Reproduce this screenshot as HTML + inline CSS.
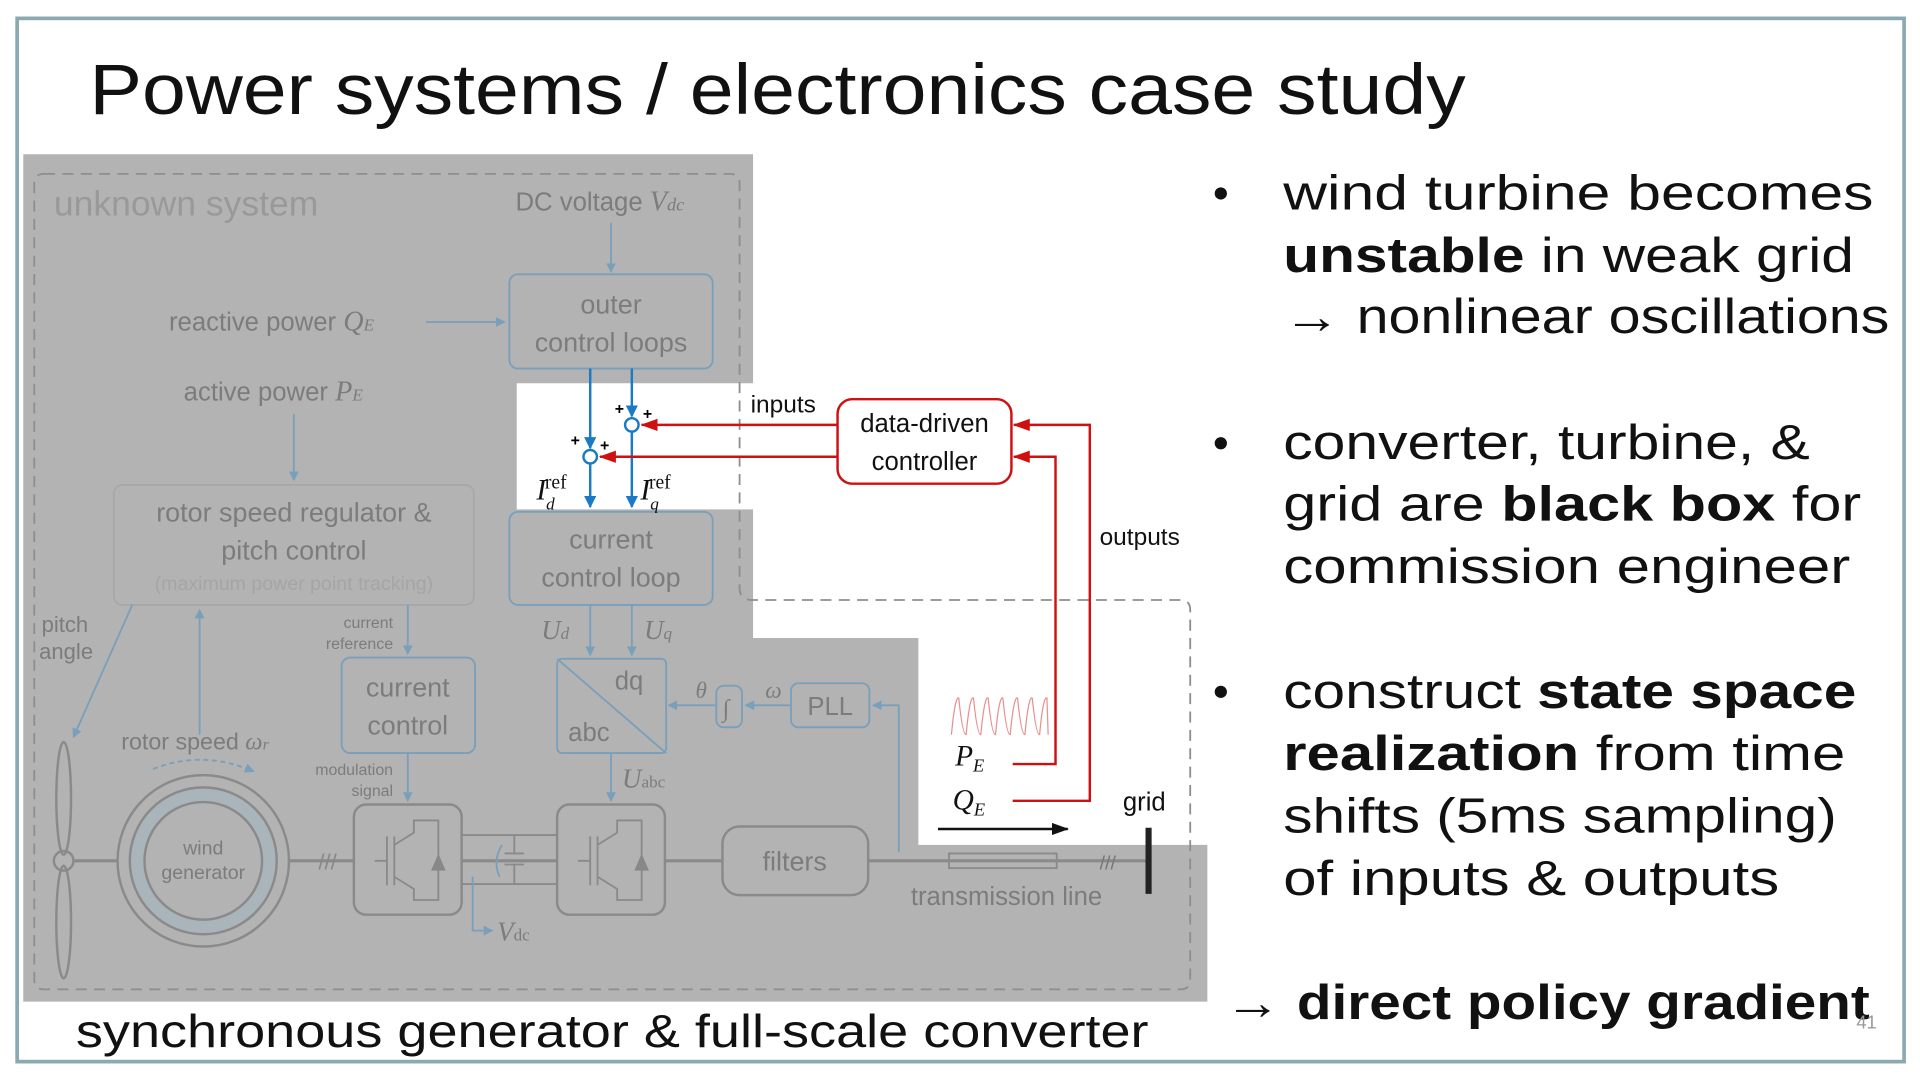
<!DOCTYPE html>
<html><head><meta charset="utf-8"><style>
html,body{margin:0;padding:0;background:#fff;width:1920px;height:1080px;overflow:hidden}
svg{display:block}
.t{font-family:"Liberation Sans",sans-serif}
.g{fill:#7c7c7c;font-family:"Liberation Sans",sans-serif}
.m{fill:#7c7c7c;font-family:"Liberation Serif",serif;font-style:italic}
.r{font-family:"Liberation Sans",sans-serif;font-size:40px;fill:#111}
</style></head><body>
<svg width="1920" height="1080" viewBox="0 0 1568 882" xmlns="http://www.w3.org/2000/svg">
<defs>
<marker id="ab" markerWidth="8" markerHeight="8" refX="7" refY="4" orient="auto" markerUnits="userSpaceOnUse"><path d="M0,0 L8,4 L0,8z" fill="#7a9fbb"/></marker>
<marker id="abb" markerWidth="10" markerHeight="10" refX="9" refY="5" orient="auto" markerUnits="userSpaceOnUse"><path d="M0,0 L10,5 L0,10z" fill="#1a7ac4"/></marker>
<marker id="ar" markerWidth="14" markerHeight="10" refX="13" refY="5" orient="auto" markerUnits="userSpaceOnUse"><path d="M0,0 L14,5 L0,10z" fill="#d01010"/></marker>
<marker id="ak" markerWidth="14" markerHeight="10" refX="13" refY="5" orient="auto" markerUnits="userSpaceOnUse"><path d="M0,0 L14,5 L0,10z" fill="#111"/></marker>
</defs>
<rect x="0" y="0" width="1568" height="882" fill="#fff"/>
<rect x="14" y="15" width="1541" height="852" fill="none" stroke="#8aa9b0" stroke-width="3"/>
<text class="t" x="73" y="93" font-size="58" fill="#111" textLength="1124" lengthAdjust="spacingAndGlyphs" font-weight="300">Power systems / electronics case study</text>

<!-- gray region -->
<path d="M19,126 H615 V313 H422 V416 H615 V521 H750 V690 H986 V818 H19 Z" fill="#b3b3b3"/>

<!-- dashed box -->
<path d="M36,142 H596 Q604,142 604,150 V480 Q604,490 614,490 H964 Q972,490 972,498 V800 Q972,808 964,808 H36 Q28,808 28,800 V150 Q28,142 36,142 Z" fill="none" stroke="#8e8e8e" stroke-width="1.5" stroke-dasharray="9,6"/>

<!-- faded diagram -->
<text class="g" x="44" y="176" font-size="29" fill="#999" style="fill:#999">unknown system</text>
<text class="g" x="421" y="172" font-size="21">DC voltage <tspan class="m" font-size="23">V</tspan><tspan class="m" font-style="normal" font-size="15">dc</tspan></text>
<line x1="499" y1="182" x2="499" y2="222" stroke="#7a9fbb" stroke-width="1.5" marker-end="url(#ab)"/>
<rect x="416" y="224" width="166" height="77" rx="7" fill="none" stroke="#7a9fbb" stroke-width="1.5"/>
<text class="g" x="499" y="256" font-size="22" text-anchor="middle">outer</text>
<text class="g" x="499" y="287" font-size="22" text-anchor="middle">control loops</text>
<text class="g" x="138" y="270" font-size="21">reactive power <tspan class="m" font-size="23">Q</tspan><tspan class="m" font-size="14">E</tspan></text>
<line x1="348" y1="263" x2="412" y2="263" stroke="#7a9fbb" stroke-width="1.5" marker-end="url(#ab)"/>
<text class="g" x="150" y="327" font-size="21">active power <tspan class="m" font-size="23">P</tspan><tspan class="m" font-size="14">E</tspan></text>
<line x1="240" y1="338" x2="240" y2="392" stroke="#7a9fbb" stroke-width="1.5" marker-end="url(#ab)"/>
<rect x="93" y="396" width="294" height="98" rx="7" fill="none" stroke="#a8a8a8" stroke-width="1.5"/>
<text class="g" x="240" y="426" font-size="22" text-anchor="middle">rotor speed regulator &amp;</text>
<text class="g" x="240" y="457" font-size="22" text-anchor="middle">pitch control</text>
<text class="g" x="240" y="482" font-size="16" text-anchor="middle" style="fill:#a5a5a5">(maximum power point tracking)</text>
<rect x="416" y="418" width="166" height="76" rx="7" fill="none" stroke="#7a9fbb" stroke-width="1.5"/>
<text class="g" x="499" y="448" font-size="22" text-anchor="middle">current</text>
<text class="g" x="499" y="479" font-size="22" text-anchor="middle">control loop</text>
<text class="g" x="34" y="516" font-size="18">pitch</text>
<text class="g" x="32" y="538" font-size="18">angle</text>
<line x1="108" y1="494" x2="60" y2="602" stroke="#7a9fbb" stroke-width="1.5" marker-end="url(#ab)"/>
<line x1="163" y1="600" x2="163" y2="498" stroke="#7a9fbb" stroke-width="1.5" marker-end="url(#ab)"/>
<text class="g" x="99" y="612" font-size="19">rotor speed <tspan class="m" font-size="20">ω</tspan><tspan class="m" font-size="13">r</tspan></text>
<text class="g" x="321" y="513" font-size="13" text-anchor="end">current</text>
<text class="g" x="321" y="530" font-size="13" text-anchor="end">reference</text>
<line x1="333" y1="494" x2="333" y2="534" stroke="#7a9fbb" stroke-width="1.5" marker-end="url(#ab)"/>
<rect x="279" y="537" width="109" height="78" rx="7" fill="none" stroke="#7a9fbb" stroke-width="1.5"/>
<text class="g" x="333" y="569" font-size="22" text-anchor="middle">current</text>
<text class="g" x="333" y="600" font-size="22" text-anchor="middle">control</text>
<text class="g" x="321" y="633" font-size="13" text-anchor="end">modulation</text>
<text class="g" x="321" y="650" font-size="13" text-anchor="end">signal</text>
<line x1="333" y1="615" x2="333" y2="654" stroke="#7a9fbb" stroke-width="1.5" marker-end="url(#ab)"/>
<text class="m" x="442" y="522" font-size="22">U<tspan font-size="14">d</tspan></text>
<text class="m" x="526" y="522" font-size="22">U<tspan font-size="14">q</tspan></text>
<line x1="482" y1="494" x2="482" y2="535" stroke="#7a9fbb" stroke-width="1.5" marker-end="url(#ab)"/>
<line x1="516" y1="494" x2="516" y2="535" stroke="#7a9fbb" stroke-width="1.5" marker-end="url(#ab)"/>
<rect x="455" y="538" width="89" height="77" rx="4" fill="none" stroke="#7a9fbb" stroke-width="1.5"/>
<line x1="455" y1="538" x2="544" y2="615" stroke="#7a9fbb" stroke-width="1.5"/>
<text class="g" x="502" y="563" font-size="21">dq</text>
<text class="g" x="464" y="605" font-size="21">abc</text>
<line x1="584" y1="576" x2="546" y2="576" stroke="#7a9fbb" stroke-width="1.5" marker-end="url(#ab)"/>
<text class="m" x="568" y="570" font-size="19">θ</text>
<rect x="585" y="560" width="21" height="34" rx="6" fill="none" stroke="#7a9fbb" stroke-width="1.5"/>
<text class="m" x="590" y="585" font-size="20">∫</text>
<line x1="645" y1="576" x2="609" y2="576" stroke="#7a9fbb" stroke-width="1.5" marker-end="url(#ab)"/>
<text class="m" x="625" y="570" font-size="19">ω</text>
<rect x="646" y="558" width="64" height="36" rx="6" fill="none" stroke="#7a9fbb" stroke-width="1.5"/>
<text class="g" x="678" y="584" font-size="21" text-anchor="middle">PLL</text>
<path d="M734,696 V576 H713" fill="none" stroke="#7a9fbb" stroke-width="1.5" marker-end="url(#ab)"/>
<line x1="499" y1="615" x2="499" y2="654" stroke="#7a9fbb" stroke-width="1.5" marker-end="url(#ab)"/>
<text class="m" x="508" y="643" font-size="22">U<tspan font-size="14" font-style="normal">abc</tspan></text>
<!-- power line -->
<line x1="52" y1="703" x2="938" y2="703" stroke="#8a8a8a" stroke-width="2.5"/>
<ellipse cx="52" cy="703" rx="8" ry="8" fill="#b3b3b3" stroke="#8a8a8a" stroke-width="2"/>
<ellipse cx="52" cy="652" rx="6" ry="46" fill="none" stroke="#8a8a8a" stroke-width="2"/>
<ellipse cx="52" cy="753" rx="6" ry="46" fill="none" stroke="#8a8a8a" stroke-width="2"/>
<circle cx="166" cy="703" r="70" fill="#b3b3b3" stroke="#8a8a8a" stroke-width="2"/>
<circle cx="166" cy="703" r="60" fill="#a9b4bb" stroke="#8a8a8a" stroke-width="2"/>
<circle cx="166" cy="703" r="48" fill="#b3b3b3" stroke="#8a8a8a" stroke-width="2"/>
<text class="g" x="166" y="698" font-size="16" text-anchor="middle">wind</text>
<text class="g" x="166" y="718" font-size="16" text-anchor="middle">generator</text>
<path d="M125,628 Q166,612 207,630" fill="none" stroke="#7a9fbb" stroke-width="1.5" stroke-dasharray="4,3" marker-end="url(#ab)"/>
<text class="g" x="260" y="710" font-size="18" style="fill:#888">///</text>
<rect x="289" y="657" width="88" height="90" rx="10" fill="#b3b3b3" stroke="#8a8a8a" stroke-width="2"/>
<rect x="455" y="657" width="88" height="90" rx="10" fill="#b3b3b3" stroke="#8a8a8a" stroke-width="2"/>
<g stroke="#8a8a8a" stroke-width="1.5" fill="none">
<path d="M306,703 H316 M316,683 V723 M322,683 V723 M322,690 L338,680 V670 H358 V735 H338 V726 L322,716"/>
<path d="M472,703 H482 M482,683 V723 M488,683 V723 M488,690 L504,680 V670 H524 V735 H504 V726 L488,716"/>
<path d="M377,682 H455 M377,722 H455 M420,682 V697 M412,697 H428 M412,706 H428 M420,706 V722"/>
</g>
<path d="M358,697 L352,711 H364 Z M524,697 L518,711 H530 Z" fill="#888"/>
<path d="M410,690 Q402,703 408,716" fill="none" stroke="#7a9fbb" stroke-width="1.5"/>
<path d="M386,716 V760 H402" fill="none" stroke="#7a9fbb" stroke-width="1.5" marker-end="url(#ab)"/>
<text class="m" x="406" y="768" font-size="22">V<tspan font-size="14" font-style="normal">dc</tspan></text>
<rect x="590" y="675" width="119" height="56" rx="14" fill="#b3b3b3" stroke="#8a8a8a" stroke-width="2"/>
<text class="g" x="649" y="711" font-size="22" text-anchor="middle">filters</text>
<rect x="775" y="697" width="88" height="12" fill="none" stroke="#8a8a8a" stroke-width="1.5"/>
<text class="g" x="822" y="739" font-size="21" text-anchor="middle">transmission line</text>
<text class="g" x="898" y="710" font-size="16" style="fill:#777">///</text>
<line x1="938" y1="676" x2="938" y2="730" stroke="#222" stroke-width="5"/>

<!-- active colored elements -->
<g stroke="#1a7ac4" stroke-width="2" fill="none">
<line x1="482" y1="301" x2="482" y2="366" marker-end="url(#abb)"/>
<line x1="482" y1="379" x2="482" y2="414" marker-end="url(#abb)"/>
<line x1="516" y1="301" x2="516" y2="340" marker-end="url(#abb)"/>
<line x1="516" y1="352" x2="516" y2="414" marker-end="url(#abb)"/>
<circle cx="482" cy="373" r="5.5" fill="#fff"/>
<circle cx="516" cy="347" r="5.5" fill="#fff"/>
</g>
<text class="t" x="466" y="364" font-size="13" font-weight="bold">+</text>
<text class="t" x="490" y="368" font-size="13" font-weight="bold">+</text>
<text class="t" x="502" y="338" font-size="13" font-weight="bold">+</text>
<text class="t" x="525" y="342" font-size="13" font-weight="bold">+</text>
<text x="438" y="408" font-size="24" font-family="Liberation Serif,serif" font-style="italic" fill="#111">I<tspan font-size="14" dy="8">d</tspan><tspan font-size="16" font-style="normal" dx="-8" dy="-17">ref</tspan></text>
<text x="523" y="408" font-size="24" font-family="Liberation Serif,serif" font-style="italic" fill="#111">I<tspan font-size="14" dy="8">q</tspan><tspan font-size="16" font-style="normal" dx="-8" dy="-17">ref</tspan></text>

<line x1="684" y1="347" x2="524" y2="347" stroke="#d01010" stroke-width="2" marker-end="url(#ar)"/>
<line x1="684" y1="373" x2="490" y2="373" stroke="#d01010" stroke-width="2" marker-end="url(#ar)"/>
<rect x="684" y="326" width="142" height="69" rx="12" fill="#fff" stroke="#d01010" stroke-width="2"/>
<text class="t" x="755" y="353" font-size="21" text-anchor="middle" fill="#111">data-driven</text>
<text class="t" x="755" y="384" font-size="21" text-anchor="middle" fill="#111">controller</text>
<text class="t" x="613" y="337" font-size="20" fill="#111">inputs</text>
<text class="t" x="898" y="445" font-size="20" fill="#111">outputs</text>
<path d="M827,624 H862 V373 H828" fill="none" stroke="#d01010" stroke-width="2" marker-end="url(#ar)"/>
<path d="M827,654 H890 V347 H828" fill="none" stroke="#d01010" stroke-width="2" marker-end="url(#ar)"/>
<path d="M777,600 Q780,568 783,570 Q786,600 789,600 Q792,568 795,570 Q798,600 801,600 Q804,568 807,570 Q810,600 813,600 Q816,568 819,570 Q822,600 825,600 Q828,568 831,570 Q834,600 837,600 Q840,568 843,570 Q846,600 849,600 Q852,568 855,570 L856,600" fill="none" stroke="#e89090" stroke-width="1"/>
<text x="780" y="625" font-size="24" font-family="Liberation Serif,serif" font-style="italic" fill="#111">P<tspan font-size="15" dy="5">E</tspan></text>
<text x="778" y="661" font-size="24" font-family="Liberation Serif,serif" font-style="italic" fill="#111">Q<tspan font-size="15" dy="5">E</tspan></text>
<text class="t" x="917" y="662" font-size="21" fill="#111">grid</text>
<line x1="766" y1="677" x2="872" y2="677" stroke="#111" stroke-width="2" marker-end="url(#ak)"/>

<!-- right text -->
<g class="r">
<circle cx="997" cy="158" r="5" fill="#111"/>
<circle cx="997" cy="362" r="5" fill="#111"/>
<circle cx="997" cy="565" r="5" fill="#111"/>
<text x="1048" y="171" textLength="482" lengthAdjust="spacingAndGlyphs">wind turbine becomes</text>
<text x="1048" y="222" textLength="466" lengthAdjust="spacingAndGlyphs"><tspan font-weight="bold">unstable</tspan> in weak grid</text>
<text x="1048" y="272" textLength="495" lengthAdjust="spacingAndGlyphs">→ nonlinear oscillations</text>
<text x="1048" y="375" textLength="430" lengthAdjust="spacingAndGlyphs">converter, turbine, &amp;</text>
<text x="1048" y="425" textLength="472" lengthAdjust="spacingAndGlyphs">grid are  <tspan font-weight="bold">black box</tspan> for</text>
<text x="1048" y="476" textLength="463" lengthAdjust="spacingAndGlyphs">commission engineer</text>
<text x="1048" y="578" textLength="468" lengthAdjust="spacingAndGlyphs">construct <tspan font-weight="bold">state space</tspan></text>
<text x="1048" y="629" textLength="459" lengthAdjust="spacingAndGlyphs"><tspan font-weight="bold">realization</tspan> from time</text>
<text x="1048" y="680" textLength="452" lengthAdjust="spacingAndGlyphs">shifts (5ms sampling)</text>
<text x="1048" y="731" textLength="405" lengthAdjust="spacingAndGlyphs">of inputs &amp; outputs</text>
<text x="1000" y="832" textLength="527" lengthAdjust="spacingAndGlyphs">→ <tspan font-weight="bold">direct policy gradient</tspan></text>
</g>
<text class="t" x="1516" y="840" font-size="15" fill="#999">41</text>
<text class="t" x="62" y="855" font-size="38" fill="#111" textLength="876" lengthAdjust="spacingAndGlyphs">synchronous generator &amp; full-scale converter</text>
</svg>
</body></html>
